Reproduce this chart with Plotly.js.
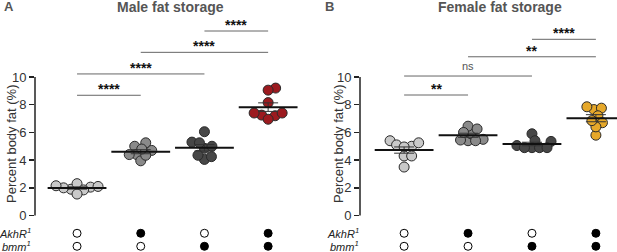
<!DOCTYPE html>
<html><head><meta charset="utf-8">
<script src="https://cdn.plot.ly/plotly-3.0.1.min.js"></script>
<style>html,body{margin:0;padding:0;background:#fff}</style>
</head><body><div id="chart" style="width:617px;height:252px"></div>
<script>
// ---- data ----
const groups = ['WT', 'AkhR1', 'bmm1', 'AkhR1 bmm1'];
const akhR = [0, 1, 0, 1];
const bmm = [0, 0, 1, 1];
const male1 = [1.9, 2.0, 2.05, 2.1, 2.3, 2.15, 1.85, 1.55];
const male2 = [4.7, 5.0, 4.4, 3.95, 5.25, 4.35, 4.4, 4.8];
const male3 = [6.05, 5.3, 4.85, 4.05, 5.0, 4.25, 5.25, 4.35];
const male4 = [9.2, 9.05, 8.15, 7.2, 7.4, 7.25, 7.4, 6.95];
const female1 = [5.0, 5.4, 5.1, 5.25, 4.95, 4.3, 3.5, 4.3];
const female2 = [5.4, 5.9, 6.45, 6.25, 5.45, 5.5, 5.4, 6.0];
const female3 = [5.9, 5.35, 5.05, 5.4, 4.9, 4.9, 4.9, 4.9];
const female4 = [7.65, 7.75, 7.85, 7.2, 6.7, 5.8, 6.4, 6.85];
const maleSigPairs = [[0, 1], [0, 2], [1, 3], [2, 3]];
const maleSigLabels = ['****', '****', '****', '****'];
const femaleSigPairs = [[0, 1], [0, 2], [1, 3], [2, 3]];
const femaleSigLabels = ['**', 'ns', '**', '****'];

// ---- styling / layout constants ----
const maleColors = ['#c9c9c9', '#8a8a8a', '#474747', '#9c1a1f'];
const femaleColors = ['#c9c9c9', '#8a8a8a', '#474747', '#e6a82a'];
const maleSigY = [8.68, 10.22, 11.78, 13.32];
const femaleSigY = [8.7, 10.07, 11.46, 12.72];
const W = 617, H = 252, MT = 8, MB = 1;
const YR = [-2.56, 14.98];
const PH = H - MT - MB;
const YPX = PH / (YR[1] - YR[0]);
const XR1 = [-0.66, 3.4], XR2 = [-0.69, 3.33];
const XPX = 63.7;

function swarm(vals) {
  const d = 7.4, placed = [], out = new Array(vals.length);
  const idx = vals.map((v, i) => i).sort((a, b) => vals[a] - vals[b]);
  for (const i of idx) {
    const y = vals[i] * YPX;
    let best = null;
    for (let s = 0; s < 400 && best === null; s++) {
      const cands = s === 0 ? [0] : [s * 0.5, -s * 0.5];
      for (const c of cands) {
        if (placed.every(p => Math.hypot(p.x - c, p.y - y) >= d)) { best = c; break; }
      }
    }
    placed.push({x: best, y});
    out[i] = best / XPX;
  }
  return out;
}
function mean(a) { return a.reduce((s, v) => s + v, 0) / a.length; }
function sem(a) {
  const m = mean(a);
  const sd = Math.sqrt(a.reduce((s, v) => s + (v - m) * (v - m), 0) / (a.length - 1));
  return sd / Math.sqrt(a.length);
}

const traces = [];
function panel(sets, colors, xa, ya) {
  sets.forEach((vals, g) => {
    const off = swarm(vals);
    traces.push({
      type: 'scatter', mode: 'markers', xaxis: xa, yaxis: ya,
      x: vals.map((v, i) => g + off[i]), y: vals, cliponaxis: false,
      marker: {size: 10, color: colors[g], line: {color: '#2a2a2a', width: 1}},
      hoverinfo: 'y'
    });
  });
  sets.forEach((vals, g) => {
    traces.push({
      type: 'scatter', mode: 'markers', xaxis: xa, yaxis: ya,
      x: [g], y: [mean(vals)], cliponaxis: false,
      marker: {symbol: 'line-ew', size: 42, line: {color: '#111', width: 2}},
      error_y: {type: 'data', array: [sem(vals)], visible: true, width: 10, thickness: 1, color: '#333'},
      hoverinfo: 'y'
    });
  });
  const rowY = [-1.28, -2.22];
  [akhR, bmm].forEach((row, r) => {
    traces.push({
      type: 'scatter', mode: 'markers', xaxis: xa, yaxis: ya,
      x: groups.map((_, i) => i), y: groups.map(() => rowY[r]), cliponaxis: false,
      marker: {size: 8, color: row.map(v => v ? '#000' : '#fff'), line: {color: '#000', width: 1}},
      hoverinfo: 'skip'
    });
  });
}
panel([male1, male2, male3, male4], maleColors, 'x', 'y');
panel([female1, female2, female3, female4], femaleColors, 'x2', 'y2');

const shapes = [], annotations = [];
function sig(pairs, labels, levels, xr, yr) {
  pairs.forEach((p, k) => {
    shapes.push({type: 'line', xref: xr, yref: yr, x0: p[0], x1: p[1], y0: levels[k], y1: levels[k],
      line: {color: '#666', width: 1}});
    const isStar = labels[k].indexOf('*') >= 0;
    annotations.push({xref: xr, yref: yr, x: (p[0] + p[1]) / 2, y: levels[k], yanchor: 'bottom',
      yshift: isStar ? -4 : 2, showarrow: false, text: isStar ? '<b>' + labels[k] + '</b>' : labels[k],
      font: {family: 'Liberation Sans, Arial, sans-serif', size: isStar ? 14 : 11, color: isStar ? '#111' : '#555'}});
  });
  shapes.push({type: 'line', xref: xr + ' domain', yref: yr, x0: 0, x1: 0, y0: 0, y1: 10,
    line: {color: '#222', width: 1.5}});
}
sig(maleSigPairs, maleSigLabels, maleSigY, 'x', 'y');
sig(femaleSigPairs, femaleSigLabels, femaleSigY, 'x2', 'y2');

const FONT = 'Liberation Sans, Arial, sans-serif';
function py(px) { return 1 - (px - MT) / PH; }
annotations.push({xref: 'paper', yref: 'paper', x: 170 / W, y: py(7), xanchor: 'center', yanchor: 'middle',
  showarrow: false, text: '<b>Male fat storage</b>', font: {family: FONT, size: 14, color: '#555'}});
annotations.push({xref: 'paper', yref: 'paper', x: 500 / W, y: py(7), xanchor: 'center', yanchor: 'middle',
  showarrow: false, text: '<b>Female fat storage</b>', font: {family: FONT, size: 14, color: '#555'}});
annotations.push({xref: 'paper', yref: 'paper', x: 2 / W, y: py(7), xanchor: 'left', yanchor: 'middle',
  showarrow: false, text: '<b>A</b>', font: {family: FONT, size: 13, color: '#555'}});
annotations.push({xref: 'paper', yref: 'paper', x: 323 / W, y: py(7), xanchor: 'left', yanchor: 'middle',
  showarrow: false, text: '<b>B</b>', font: {family: FONT, size: 13, color: '#555'}});
[11, 338].forEach(px => {
  annotations.push({xref: 'paper', yref: 'paper', x: px / W, y: py(144), xanchor: 'center', yanchor: 'middle',
    textangle: -90, showarrow: false, text: 'Percent body fat (%)', font: {family: FONT, size: 13, color: '#333'}});
});
[[33, 'y'], [361, 'y2']].forEach(([px, yr]) => {
  annotations.push({xref: 'paper', yref: yr, x: px / W, y: -1.28, xanchor: 'right', yanchor: 'middle',
    showarrow: false, text: '<i>AkhR<sup>1</sup></i>', font: {family: FONT, size: 11, color: '#222'}});
  annotations.push({xref: 'paper', yref: yr, x: px / W, y: -2.22, xanchor: 'right', yanchor: 'middle',
    showarrow: false, text: '<i>bmm<sup>1</sup></i>', font: {family: FONT, size: 11, color: '#222'}});
});

const yaxisBase = {range: YR, tickvals: [0, 2, 4, 6, 8, 10], ticks: 'outside', ticklen: 5, tickwidth: 1.5,
  tickcolor: '#222', showgrid: false, zeroline: false, showline: false, automargin: false,
  tickfont: {family: FONT, size: 13, color: '#333'}, fixedrange: true};
const xaxisBase = {showgrid: false, zeroline: false, showline: false, showticklabels: false, ticks: '',
  automargin: false, fixedrange: true};

const layout = {
  width: W, height: H, margin: {l: 0, r: 0, t: MT, b: MB, autoexpand: false},
  paper_bgcolor: '#fff', plot_bgcolor: 'rgba(0,0,0,0)', showlegend: false,
  xaxis: Object.assign({}, xaxisBase, {range: XR1, domain: [35 / W, (35 + (XR1[1] - XR1[0]) * XPX) / W]}),
  xaxis2: Object.assign({}, xaxisBase, {range: XR2, domain: [360 / W, 1], anchor: 'y2'}),
  yaxis: Object.assign({}, yaxisBase, {anchor: 'x'}),
  yaxis2: Object.assign({}, yaxisBase, {anchor: 'x2'}),
  shapes, annotations
};
Plotly.newPlot('chart', traces, layout, {staticPlot: true, displayModeBar: false});
</script></body></html>
